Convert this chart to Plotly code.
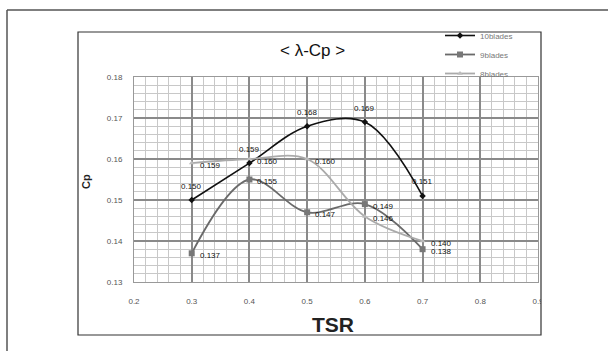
import plotly.graph_objects as go

tsr = [0.3, 0.4, 0.5, 0.6, 0.7]
cp_10 = [0.150, 0.159, 0.168, 0.169, 0.151]
cp_9 = [0.137, 0.155, 0.147, 0.149, 0.138]
cp_8 = [0.159, 0.160, 0.160, 0.146, 0.140]
series_names = ["10blades", "9blades", "8blades"]
x_ticks = [0.2, 0.3, 0.4, 0.5, 0.6, 0.7, 0.8, 0.9]
y_ticks = [0.13, 0.14, 0.15, 0.16, 0.17, 0.18]

W, H = 608, 351
L, R, T, B = 134, 538, 77, 282


def px(x):
    return (x - L) / (R - L)


def py(y):
    return (B - y) / (B - T)


FONT = "Liberation Sans, Arial, sans-serif"

fig = go.Figure()

styles = [
    dict(color="#111111", width=1.6, symbol="diamond", msize=5, mcolor="#111111"),
    dict(color="#6a6a6a", width=1.8, symbol="square", msize=6, mcolor="#777777"),
    dict(color="#aaaaaa", width=1.8, symbol="triangle-up", msize=5, mcolor="#bbbbbb"),
]
for name, vals, st in zip(series_names, [cp_10, cp_9, cp_8], styles):
    fig.add_trace(go.Scatter(
        x=tsr, y=vals, name=name, mode="lines+markers",
        line=dict(color=st["color"], width=st["width"], shape="spline", smoothing=1),
        marker=dict(symbol=st["symbol"], size=st["msize"], color=st["mcolor"]),
    ))

annotations = []
label_font = dict(size=8, color="#111111", family=FONT)
for x, v in zip(tsr, cp_10):
    annotations.append(dict(x=x, y=v, text=f"{v:.3f}", showarrow=False, xanchor="center",
                            yanchor="middle", yshift=14, font=label_font))
for x, v in zip(tsr, cp_9):
    annotations.append(dict(x=x, y=v, text=f"{v:.3f}", showarrow=False, xanchor="left",
                            yanchor="middle", xshift=6, yshift=-2, font=label_font))
for x, v in zip(tsr, cp_8):
    annotations.append(dict(x=x, y=v, text=f"{v:.3f}", showarrow=False, xanchor="left",
                            yanchor="middle", xshift=6, yshift=-2, font=label_font))

shapes = [
    # outer frame (top and left lines)
    dict(type="line", xref="paper", yref="paper", x0=px(7), x1=px(W + 5), y0=py(10), y1=py(10),
         line=dict(color="#555555", width=1.5)),
    dict(type="line", xref="paper", yref="paper", x0=px(7), x1=px(7), y0=py(10), y1=py(H + 5),
         line=dict(color="#555555", width=1.5)),
    # white cover clipping the last tick label at the chart box edge
    dict(type="rect", xref="paper", yref="paper", x0=px(541), x1=px(575), y0=py(315), y1=py(290),
         fillcolor="white", line=dict(width=0), layer="above"),
    # inner chart box
    dict(type="rect", xref="paper", yref="paper", x0=px(78), x1=px(541), y0=py(335), y1=py(32),
         line=dict(color="#333333", width=1.2), layer="above"),
]

annotations += [
    dict(text="< λ-Cp >", x=px(312), y=py(50), xref="paper", yref="paper", showarrow=False,
         font=dict(size=17, color="#111111", family=FONT), xanchor="center", yanchor="middle"),
    dict(text="<b>Cp</b>", x=px(86), y=py(182), xref="paper", yref="paper", showarrow=False,
         textangle=-90, font=dict(size=11, color="#222222", family=FONT),
         xanchor="center", yanchor="middle"),
    dict(text="<b>TSR</b>", x=px(333), y=py(324), xref="paper", yref="paper", showarrow=False,
         font=dict(size=21, color="#222222", family=FONT), xanchor="center", yanchor="middle"),
]

fig.update_layout(
    width=W, height=H,
    margin=dict(l=L, r=W - R, t=T, b=H - B),
    paper_bgcolor="white", plot_bgcolor="white",
    shapes=shapes, annotations=annotations,
    showlegend=True,
    legend=dict(x=px(440), y=py(21), xanchor="left", yanchor="top",
                font=dict(size=8, color="#777777", family=FONT),
                bgcolor="rgba(0,0,0,0)", itemwidth=30, tracegroupgap=0),
    xaxis=dict(range=[0.2, 0.9], tickvals=x_ticks, ticktext=[str(v) for v in x_ticks],
               showgrid=True, gridcolor="#8a8a8a", gridwidth=1.5,
               minor=dict(dtick=0.02, showgrid=True, gridcolor="#c8c8c8", gridwidth=1),
               showline=True, linecolor="#999999", mirror=True, zeroline=False,
               ticks="", ticklabelstandoff=11,
               tickfont=dict(size=8, color="#555555", family=FONT)),
    yaxis=dict(range=[0.13, 0.18], tickvals=y_ticks, ticktext=[f"{v:.2f}" for v in y_ticks],
               showgrid=True, gridcolor="#8a8a8a", gridwidth=1.5,
               minor=dict(dtick=0.002, showgrid=True, gridcolor="#c8c8c8", gridwidth=1),
               showline=True, linecolor="#999999", mirror=True, zeroline=False,
               ticks="", ticklabelstandoff=9,
               tickfont=dict(size=8, color="#555555", family=FONT)),
)

fig.write_html("out.html", config={"displayModeBar": False},
               post_script="document.body.style.margin='0px';document.body.style.overflow='hidden';")
